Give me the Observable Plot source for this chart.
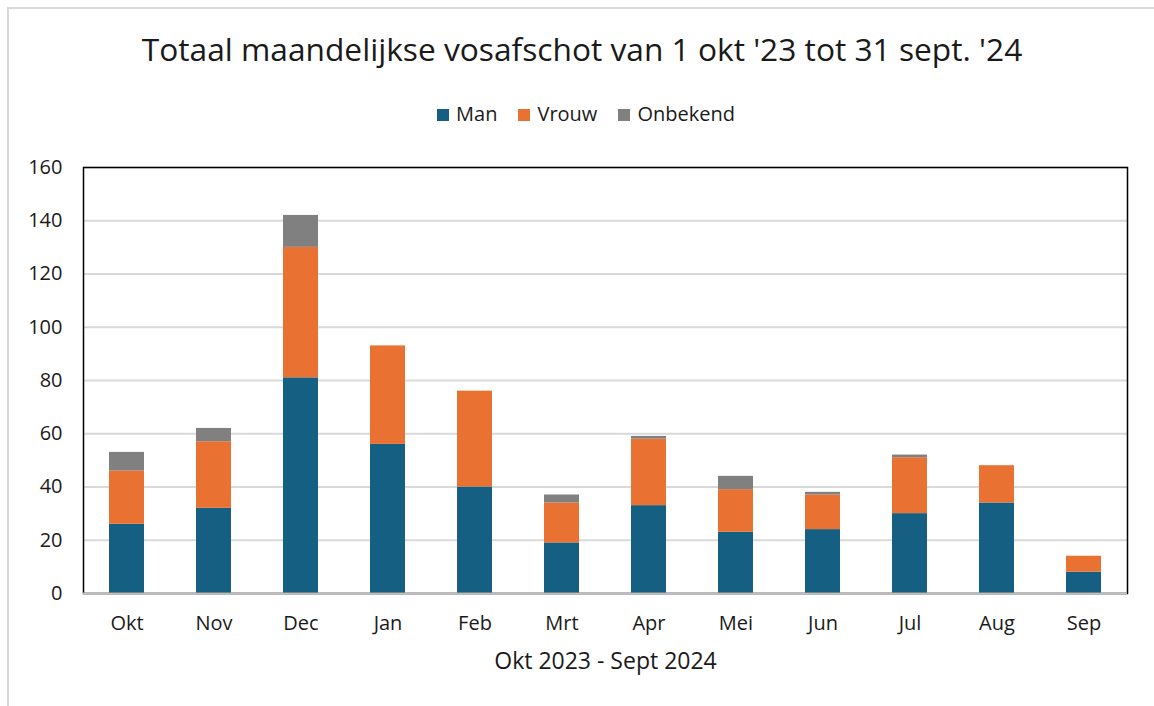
<!DOCTYPE html>
<html>
<head>
<meta charset="utf-8">
<script src="https://cdn.jsdelivr.net/npm/d3@7"></script>
<script src="https://cdn.jsdelivr.net/npm/@observablehq/plot@0.6"></script>
<style>
  html, body { margin: 0; padding: 0; background: #fff; }
  #wrap { position: relative; width: 1154px; height: 706px; overflow: hidden; font-family: "Open Sans", sans-serif; color: #1a1a1a; }
  #border { position: absolute; left: 7px; top: 7px; width: 1200px; height: 800px; border-left: 2px solid #d9d9d9; border-top: 2px solid #d9d9d9; }
  #title { position: absolute; left: 0; width: 1164px; top: 27px; text-align: center; font-size: 31.7px; line-height: 44px; }
  #legend { position: absolute; left: 0; width: 1172px; top: 100px; display: flex; justify-content: center; gap: 21px; font-size: 20px; line-height: 28px; }
  #legend span.sw { display: inline-block; width: 12px; height: 12px; margin-right: 7px; vertical-align: 0px; }
  #chart { position: absolute; left: 0; top: 140px; }
</style>
</head>
<body>
<div id="wrap">
  <div id="border"></div>
  <div id="title"></div>
  <div id="legend"></div>
  <div id="chart"></div>
</div>
<script>
const titleText = "Totaal maandelijkse vosafschot van 1 okt '23 tot 31 sept. '24";
const xLabel = "Okt 2023 - Sept 2024";
const months = ["Okt", "Nov", "Dec", "Jan", "Feb", "Mrt", "Apr", "Mei", "Jun", "Jul", "Aug", "Sep"];
const series = ["Man", "Vrouw", "Onbekend"];
const colors = ["#156082", "#E97132", "#808080"];
const man      = [26, 32, 81, 56, 40, 19, 33, 23, 24, 30, 34, 8];
const vrouw    = [20, 25, 49, 37, 36, 15, 25, 16, 13, 21, 14, 6];
const onbekend = [7, 5, 12, 0, 0, 3, 1, 5, 1, 1, 0, 0];
const yTicks = [0, 20, 40, 60, 80, 100, 120, 140, 160];

document.getElementById("title").textContent = titleText;
const legend = document.getElementById("legend");
series.forEach((s, i) => {
  const item = document.createElement("div");
  const sw = document.createElement("span");
  sw.className = "sw";
  sw.style.background = colors[i];
  item.appendChild(sw);
  item.appendChild(document.createTextNode(s));
  legend.appendChild(item);
});

const values = [man, vrouw, onbekend];
const data = [];
series.forEach((s, si) => {
  months.forEach((m, mi) => data.push({month: m, series: s, value: values[si][mi]}));
});

const chart = Plot.plot({
  width: 1154,
  height: 566,
  marginTop: 27,
  marginBottom: 113,
  marginLeft: 83,
  marginRight: 27,
  style: {fontFamily: "'Open Sans', sans-serif", fontSize: "20px", color: "#1a1a1a", background: "transparent"},
  x: {domain: months, paddingInner: 0.6, paddingOuter: 0.3, label: null},
  y: {domain: [0, 160], ticks: yTicks, label: null},
  color: {domain: series, range: colors},
  marks: [
    Plot.gridY(yTicks, {stroke: "#d9d9d9", strokeOpacity: 1, strokeWidth: 1.8}),
    Plot.barY(data, {x: "month", y: "value", fill: "series", order: series}),
    Plot.frame({stroke: "#000", strokeWidth: 1.5}),
    Plot.ruleY([0], {stroke: "#bfbfbf", strokeWidth: 2}),
    Plot.axisY(yTicks, {tickSize: 0, tickPadding: 21, fontSize: 20, label: null}),
    Plot.axisX({tickSize: 0, tickPadding: 22, fontSize: 20, label: null}),
    Plot.text([xLabel], {frameAnchor: "bottom", dy: 75, fontSize: 23, text: d => d})
  ]
});
document.getElementById("chart").appendChild(chart);
</script>
</body>
</html>
